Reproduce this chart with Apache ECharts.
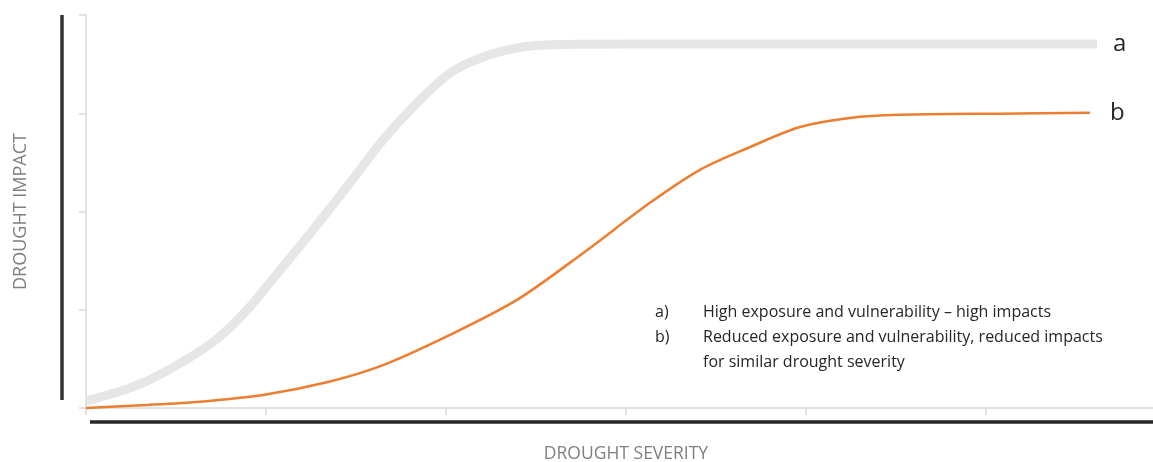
<!DOCTYPE html>
<html>
<head>
<meta charset="utf-8">
<script src="https://cdn.jsdelivr.net/npm/echarts@6/dist/echarts.min.js"></script>
<style>
html,body{margin:0;padding:0;background:#fff;}
#chart{width:1153px;height:462px;}
</style>
</head>
<body>
<div id="chart"></div>
<script>
// Curve a: high exposure and vulnerability
const severityA = [0, 0.244, 0.428, 0.706, 0.894, 1.078, 1.261, 1.467, 1.65, 1.839, 2.022, 2.206, 2.394, 2.578, 3.0, 3.5, 4.0, 4.5, 5.0, 5.617];
const impactA   = [1.8, 5.1, 8.9, 16.8, 24.9, 35.1, 45.3, 57.3, 68.2, 77.6, 85.2, 89.3, 91.6, 92.4, 92.6, 92.6, 92.6, 92.6, 92.6, 92.6];
// Curve b: reduced exposure and vulnerability
const severityB = [0, 0.339, 0.633, 0.983, 1.344, 1.65, 2.022, 2.394, 2.761, 3.133, 3.411, 3.689, 3.967, 4.244, 4.522, 5.078, 5.578];
const impactB   = [0, 0.76, 1.6, 3.3, 6.6, 10.9, 18.6, 27.5, 39.4, 52.2, 60.6, 66.4, 71.5, 73.8, 74.6, 74.9, 75.1];
const seriesNames = ['a', 'b'];
const xAxisTitle = 'DROUGHT SEVERITY';
const yAxisTitle = 'DROUGHT IMPACT';
const notes = [
  ['a)', 'High exposure and vulnerability \u2013 high impacts'],
  ['b)', 'Reduced exposure and vulnerability, reduced impacts'],
  ['', 'for similar drought severity']
];

const pairs = (xs, ys) => xs.map((x, i) => [x, ys[i]]);
const chart = echarts.init(document.getElementById('chart'));
const fontFam = '"Open Sans", Lato, sans-serif';

const noteGraphics = [];
notes.forEach((row, i) => {
  const y = 312 + i * 25;
  if (row[0]) noteGraphics.push({type: 'text', left: 655, top: y - 8, style: {text: row[0], font: '16px ' + fontFam, fill: '#262626'}});
  noteGraphics.push({type: 'text', left: 703, top: y - 8, style: {text: row[1], font: '16px ' + fontFam, fill: '#262626'}});
});

chart.setOption({
  animation: false,
  grid: {left: 86, right: -13, top: 15, bottom: 54, containLabel: false, outerBoundsMode: 'none'},
  xAxis: {
    type: 'value', min: 0, max: 6, interval: 1,
    name: xAxisTitle, nameLocation: 'middle', nameGap: 37,
    nameTextStyle: {color: '#7f7f7f', fontSize: 17.5, fontFamily: fontFam},
    axisLine: {show: true, lineStyle: {color: '#d9d9d9', width: 1.5}},
    axisTick: {show: true, length: 7, lineStyle: {color: '#d9d9d9', width: 1.5}},
    axisLabel: {show: false},
    splitLine: {show: false}
  },
  yAxis: {
    type: 'value', min: 0, max: 100, interval: 25,
    name: yAxisTitle, nameLocation: 'middle', nameGap: 56, nameRotate: 90,
    nameTextStyle: {color: '#7f7f7f', fontSize: 18, fontFamily: fontFam},
    axisLine: {show: true, lineStyle: {color: '#d9d9d9', width: 1.5}},
    axisTick: {show: true, length: 7, lineStyle: {color: '#d9d9d9', width: 1.5}},
    axisLabel: {show: false},
    splitLine: {show: false}
  },
  series: [
    {
      name: seriesNames[0], type: 'line', data: pairs(severityA, impactA),
      smooth: 0.3, symbol: 'none', clip: false,
      lineStyle: {color: '#e6e6e6', width: 9, cap: 'butt'},
      endLabel: {show: true, formatter: seriesNames[0], distance: 16, color: '#262626', fontSize: 24, fontFamily: fontFam}
    },
    {
      name: seriesNames[1], type: 'line', data: pairs(severityB, impactB),
      smooth: 0.3, symbol: 'none', clip: false,
      lineStyle: {color: '#ED7D31', width: 2.5},
      endLabel: {show: true, formatter: seriesNames[1], distance: 20, color: '#262626', fontSize: 24, fontFamily: fontFam}
    }
  ],
  graphic: [
    {type: 'line', shape: {x1: 62, y1: 15, x2: 62, y2: 400}, style: {stroke: '#333', lineWidth: 3.5}},
    {type: 'line', shape: {x1: 90, y1: 422, x2: 1153, y2: 422}, style: {stroke: '#262626', lineWidth: 3.5}}
  ].concat(noteGraphics)
});
</script>
</body>
</html>
